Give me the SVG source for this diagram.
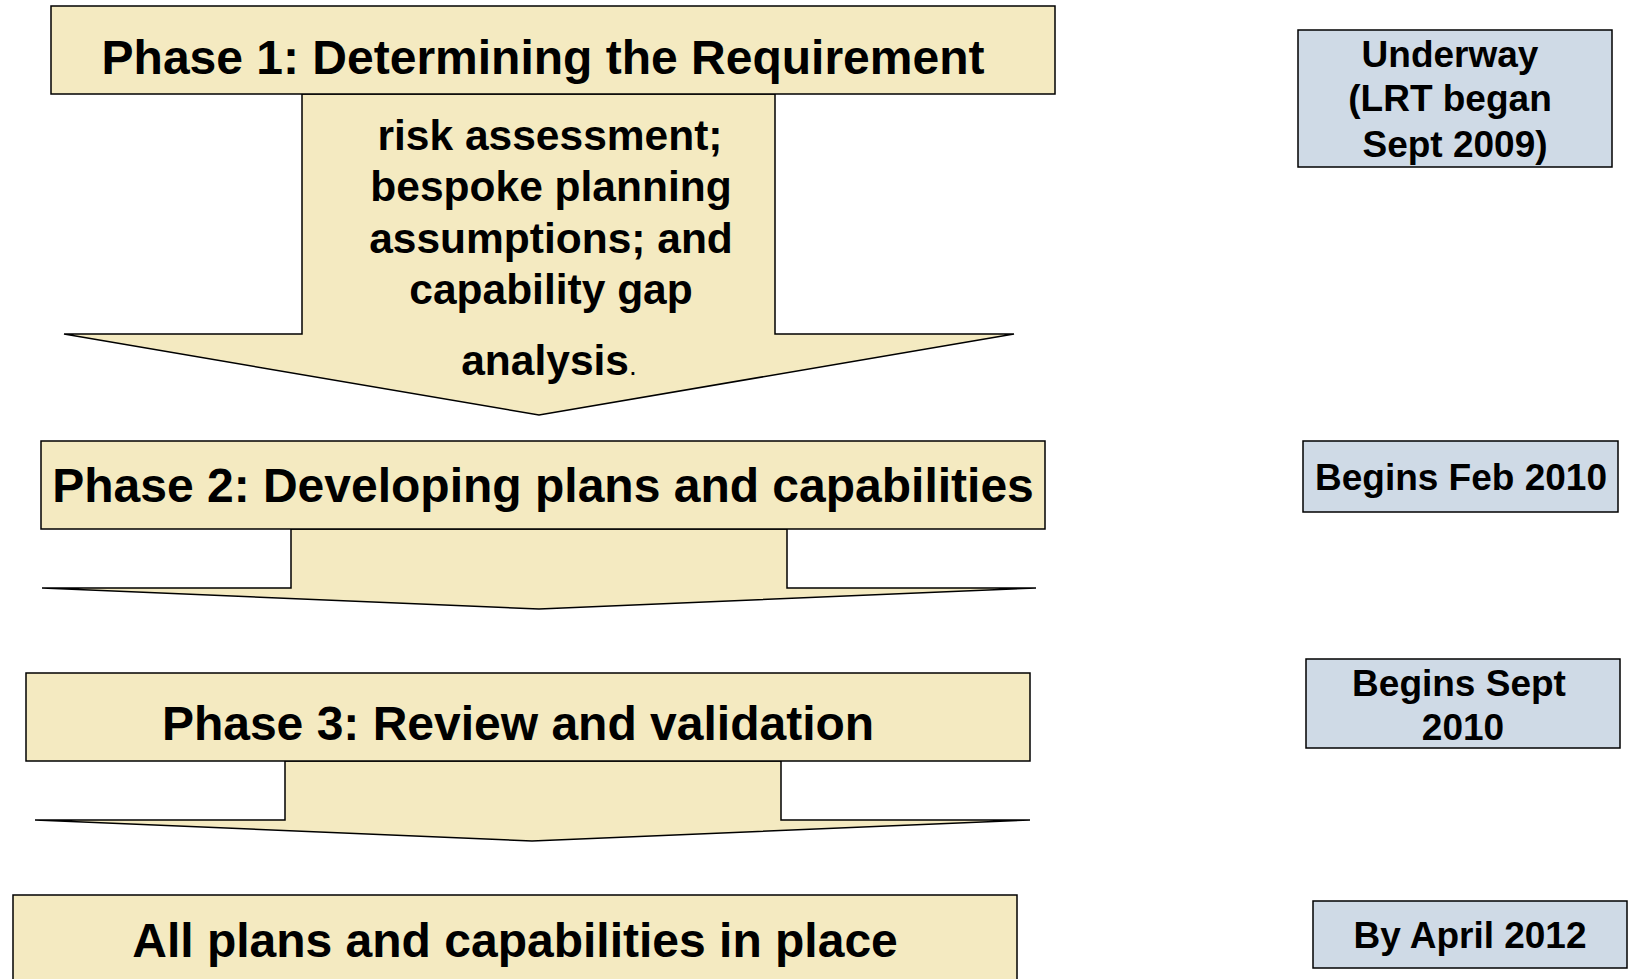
<svg xmlns="http://www.w3.org/2000/svg" width="1630" height="979" viewBox="0 0 1630 979">
<style>
.bg{fill:#ffffff}
.ph{fill:#F4EAC1;stroke:#000;stroke-width:1.5}
.arr{fill:#F4EAC1;stroke:#000;stroke-width:1.5;stroke-linejoin:miter}
.tm{fill:#CFDAE6;stroke:#000;stroke-width:1.5}
.t{font-family:"Liberation Sans",Arial,sans-serif;font-weight:bold;fill:#000;text-anchor:middle}
.tt{font-size:48px}
.tb{font-size:42.5px}
.tr{font-size:37px}
</style>
<rect class="bg" x="0" y="0" width="1630" height="979"/>
<g id="connectors">
<polygon class="arr" points="302,94 775,94 775,334 1014,334 539,415 64,334 302,334"/>
<polygon class="arr" points="291,529 787,529 787,588 1036,588 539,609 42,588 291,588"/>
<polygon class="arr" points="285,761 781,761 781,820 1030,820 532,841 35,820 285,820"/>
</g>
<g id="phase1">
<rect class="ph" x="51" y="6" width="1004" height="88"/>
<text class="t tt" x="543" y="74">Phase 1: Determining the Requirement</text>
</g>
<g id="phase1-detail">
<text class="t tb" x="550" y="150">risk assessment;</text>
<text class="t tb" x="551" y="201">bespoke planning</text>
<text class="t tb" x="551" y="253">assumptions; and</text>
<text class="t tb" x="551" y="304">capability gap</text>
<text class="t tb" x="549" y="375">analysis<tspan style="font-weight:normal;font-size:28px">.</tspan></text>
</g>
<g id="phase2">
<rect class="ph" x="41" y="441" width="1004" height="88"/>
<text class="t tt" x="543" y="502">Phase 2: Developing plans and capabilities</text>
</g>
<g id="phase3">
<rect class="ph" x="26" y="673" width="1004" height="88"/>
<text class="t tt" x="518" y="740">Phase 3: Review and validation</text>
</g>
<g id="phase4">
<rect class="ph" x="13" y="895" width="1004" height="100"/>
<text class="t tt" x="515" y="957">All plans and capabilities in place</text>
</g>
<g id="time1">
<rect class="tm" x="1298" y="30" width="314" height="137"/>
<text class="t tr" x="1450" y="67">Underway</text>
<text class="t tr" x="1450" y="111">(LRT began</text>
<text class="t tr" x="1455" y="157">Sept 2009)</text>
</g>
<g id="time2">
<rect class="tm" x="1303" y="441" width="315" height="71"/>
<text class="t tr" x="1461" y="490">Begins Feb 2010</text>
</g>
<g id="time3">
<rect class="tm" x="1306" y="659" width="314" height="89"/>
<text class="t tr" x="1459" y="696">Begins Sept</text>
<text class="t tr" x="1463" y="740">2010</text>
</g>
<g id="time4">
<rect class="tm" x="1313" y="901" width="314" height="67"/>
<text class="t tr" x="1470" y="948">By April 2012</text>
</g>
</svg>
